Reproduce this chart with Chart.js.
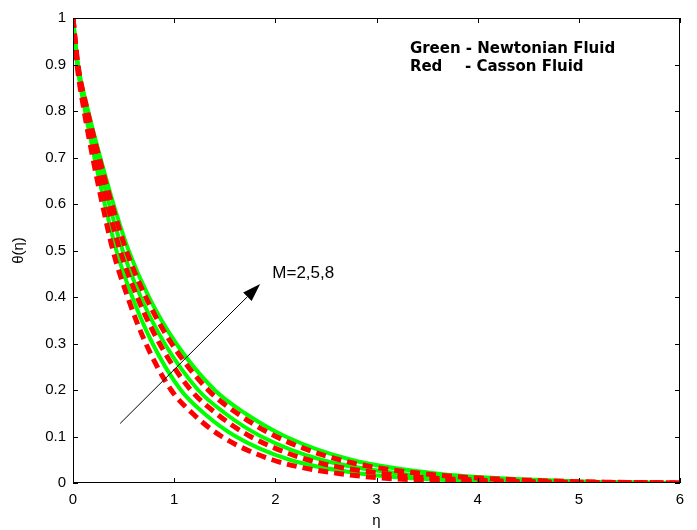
<!DOCTYPE html>
<html>
<head>
<meta charset="utf-8">
<script src="https://cdn.jsdelivr.net/npm/chart.js@4.4.1/dist/chart.umd.min.js"></script>
<style>
  html, body { margin: 0; padding: 0; background: #fff; }
  #wrap { width: 697px; height: 530px; }
</style>
</head>
<body>
<div id="wrap"><canvas id="theta"></canvas></div>
<script>
// --- DATOS ---
const etaTicks = [0, 1, 2, 3, 4, 5, 6];
const thetaTicks = [0, 0.1, 0.2, 0.3, 0.4, 0.5, 0.6, 0.7, 0.8, 0.9, 1];

// niveles de theta compartidos; cada curva da su eta para ese nivel
const thetaLevels = [1, 0.9, 0.8, 0.7, 0.6, 0.5, 0.4, 0.3, 0.2, 0.15, 0.1, 0.05, 0.02, 0.005, 0];

const etaCassonM2  = [0, 0.040, 0.110, 0.195, 0.290, 0.395, 0.540, 0.720, 0.970, 1.180, 1.470, 1.970, 2.640, 3.640, 6];
const etaNewtonM2  = [0, 0.042, 0.119, 0.212, 0.314, 0.429, 0.586, 0.786, 1.065, 1.294, 1.609, 2.142, 2.853, 3.897, 6];
const etaCassonM5  = [0, 0.045, 0.128, 0.229, 0.340, 0.465, 0.635, 0.855, 1.164, 1.414, 1.754, 2.321, 3.077, 4.167, 6];
const etaNewtonM5  = [0, 0.046, 0.135, 0.242, 0.358, 0.491, 0.670, 0.906, 1.237, 1.502, 1.861, 2.454, 3.241, 4.365, 6];
const etaCassonM8  = [0, 0.049, 0.144, 0.259, 0.384, 0.527, 0.719, 0.975, 1.336, 1.622, 2.006, 2.633, 3.465, 4.635, 6];
const etaNewtonM8  = [0, 0.050, 0.150, 0.270, 0.400, 0.550, 0.750, 1.020, 1.400, 1.700, 2.100, 2.750, 3.610, 4.810, 6];

// anotaciones (coordenadas de datos)
const arrowFrom = { x: 0.466, y: 0.128 };
const arrowTo   = { x: 1.85,  y: 0.428 };
const arrowLabel = { x: 1.97, y: 0.45, text: 'M=2,5,8' };
const noteLines = [
    { x: 3.33, xDash: null,  y: 0.925, parts: ['Green', ' - Newtonian Fluid'] },
    { x: 3.33, xDash: 3.875, y: 0.887, parts: ['Red', '- Casson Fluid'] }
];

const GREEN = '#00ff00';
const RED = '#ff0000';

const toPoints = (etas) => etas.map((e, i) => ({ x: e, y: thetaLevels[i] }));

const newton = (etas) => ({
    data: toPoints(etas),
    borderColor: GREEN,
    borderWidth: 4,
    showLine: true,
    pointRadius: 0,
    cubicInterpolationMode: 'monotone',
    order: 2
});
const casson = (etas) => ({
    data: toPoints(etas),
    borderColor: RED,
    borderWidth: 5,
    borderDash: [10, 6],
    showLine: true,
    pointRadius: 0,
    cubicInterpolationMode: 'monotone',
    order: 1
});

// marco + ticks hacia adentro + flecha + textos
const matlabBox = {
    id: 'matlabBox',
    afterDatasetsDraw(chart) {
        const { ctx, chartArea: a, scales: { x, y } } = chart;
        ctx.save();
        ctx.strokeStyle = '#000';
        ctx.lineWidth = 1;
        ctx.strokeRect(a.left + 0.5, a.top + 0.5, a.right - a.left - 1, a.bottom - a.top - 1);
        ctx.beginPath();
        const t = 5;
        etaTicks.forEach(v => {
            const px = Math.round(x.getPixelForValue(v)) + 0.5;
            ctx.moveTo(px, a.bottom); ctx.lineTo(px, a.bottom - t);
            ctx.moveTo(px, a.top); ctx.lineTo(px, a.top + t);
        });
        thetaTicks.forEach(v => {
            const py = Math.round(y.getPixelForValue(v)) + 0.5;
            ctx.moveTo(a.left, py); ctx.lineTo(a.left + t, py);
            ctx.moveTo(a.right, py); ctx.lineTo(a.right - t, py);
        });
        ctx.stroke();

        // flecha
        const x0 = x.getPixelForValue(arrowFrom.x), y0 = y.getPixelForValue(arrowFrom.y);
        const x1 = x.getPixelForValue(arrowTo.x), y1 = y.getPixelForValue(arrowTo.y);
        const ang = Math.atan2(y1 - y0, x1 - x0);
        const hl = 18, hw = 6;
        const bx = x1 - hl * Math.cos(ang), by = y1 - hl * Math.sin(ang);
        ctx.beginPath();
        ctx.moveTo(x0, y0); ctx.lineTo(bx, by);
        ctx.stroke();
        ctx.beginPath();
        ctx.fillStyle = '#000';
        ctx.moveTo(x1, y1);
        ctx.lineTo(bx + hw * Math.sin(ang), by - hw * Math.cos(ang));
        ctx.lineTo(bx - hw * Math.sin(ang), by + hw * Math.cos(ang));
        ctx.closePath();
        ctx.fill();

        ctx.font = '17px "Liberation Sans", Arial, sans-serif';
        ctx.textBaseline = 'middle';
        ctx.fillText(arrowLabel.text, x.getPixelForValue(arrowLabel.x), y.getPixelForValue(arrowLabel.y));

        ctx.font = 'bold 15px "DejaVu Sans", sans-serif';
        ctx.textBaseline = 'alphabetic';
        noteLines.forEach(n => {
            const px = x.getPixelForValue(n.x), py = y.getPixelForValue(n.y);
            ctx.fillText(n.parts[0], px, py);
            const px2 = n.xDash === null ? px + ctx.measureText(n.parts[0]).width : x.getPixelForValue(n.xDash);
            ctx.fillText(n.parts[1], px2, py);
        });
        ctx.restore();
    }
};

const tickFont = { family: '"Liberation Sans", Arial, sans-serif', size: 15 };

new Chart(document.getElementById('theta').getContext('2d'), {
    type: 'scatter',
    data: {
        datasets: [
            casson(etaCassonM2), casson(etaCassonM5), casson(etaCassonM8),
            newton(etaNewtonM2), newton(etaNewtonM5), newton(etaNewtonM8)
        ]
    },
    options: {
        responsive: true,
        maintainAspectRatio: false,
        animation: false,
        layout: { padding: { top: 18, right: 17, left: 10, bottom: 0 } },
        plugins: { legend: { display: false }, tooltip: { enabled: false } },
        scales: {
            x: {
                type: 'linear', min: 0, max: 6,
                afterBuildTicks: (s) => { s.ticks = etaTicks.map(v => ({ value: v })); },
                afterFit: (s) => { s.height = 47; },
                grid: { display: false, drawTicks: false },
                border: { display: false },
                ticks: { color: '#000', font: tickFont, padding: 8 },
                title: { display: true, text: 'η', color: '#000', font: tickFont, padding: { top: 2, bottom: 0 } }
            },
            y: {
                type: 'linear', min: 0, max: 1,
                afterBuildTicks: (s) => { s.ticks = thetaTicks.map(v => ({ value: v })); },
                afterFit: (s) => { s.width = 63; },
                grid: { display: false, drawTicks: false },
                border: { display: false },
                ticks: { color: '#000', font: tickFont, padding: 7, callback: (v) => String(v) },
                title: { display: true, text: 'θ(η)', color: '#000', font: tickFont, padding: { top: 0, bottom: 0 } }
            }
        }
    },
    plugins: [matlabBox]
});
</script>
</body>
</html>
